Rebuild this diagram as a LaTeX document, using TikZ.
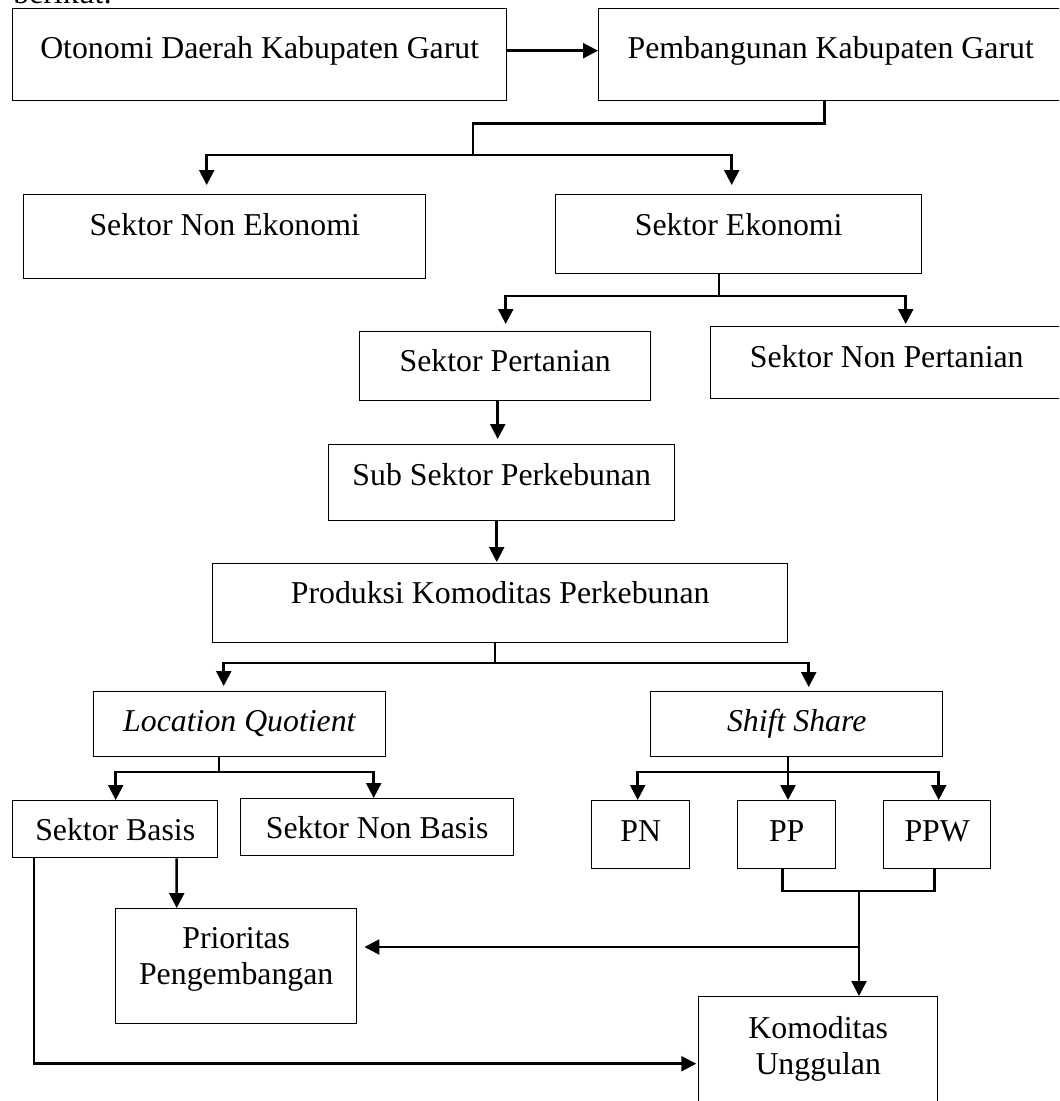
\documentclass[tikz,border=0pt]{standalone}
\usepackage{fontspec}
\setmainfont{Liberation Serif}
\usetikzlibrary{arrows.meta,calc,positioning}
\newlength\satuan
\setlength\satuan{0.02cm}

\begin{document}
\begin{tikzpicture}[x=0.02cm, y=-0.02cm,
  kotak/.style={draw, line width=0.8pt, inner sep=0pt, anchor=north west, align=center,
    font=\fontsize{18.1pt}{20.5pt}\selectfont},
  garis/.style={line width=1.4pt},
  panah/.style={garis, -{Triangle[width=8.5pt,length=8.5pt]}}]
\useasboundingbox (0,0) rectangle (1059,1101);
\clip (0,0) rectangle (1059,1101);

\node[anchor=base west, inner sep=0pt, font=\fontsize{18.1pt}{20.5pt}\selectfont] (pengantar) at (13,4) {berikut:};

\node[kotak, minimum width=494\satuan, text height=50\satuan, text depth=42\satuan] (otonomi) at (12,8) {Otonomi Daerah Kabupaten Garut};
\node[kotak, minimum width=464\satuan, text height=50\satuan, text depth=42\satuan] (pembangunan) at (598,8) {Pembangunan Kabupaten Garut};
\node[kotak, minimum width=402\satuan, text height=41\satuan, text depth=43\satuan] (nonekonomi) at (23,194) {Sektor Non Ekonomi};
\node[kotak, minimum width=366\satuan, text height=41\satuan, text depth=38\satuan] (ekonomi) at (555,194) {Sektor Ekonomi};
\node[kotak, minimum width=291\satuan, text height=40\satuan, text depth=29\satuan] (pertanian) at (359,331) {Sektor Pertanian};
\node[kotak, minimum width=352\satuan, text height=41\satuan, text depth=31\satuan] (nonpertanian) at (710,326) {Sektor Non Pertanian};
\node[kotak, minimum width=346\satuan, text height=41\satuan, text depth=35\satuan] (perkebunan) at (328,444) {Sub Sektor Perkebunan};
\node[kotak, minimum width=575\satuan, text height=40\satuan, text depth=39\satuan] (produksi) at (212,563) {Produksi Komoditas Perkebunan};
\node[kotak, minimum width=292\satuan, text height=40\satuan, text depth=25\satuan] (lq) at (93,691) {\textit{Location Quotient}};
\node[kotak, minimum width=292\satuan, text height=40\satuan, text depth=25\satuan] (ss) at (650,691) {\textit{Shift Share}};
\node[kotak, minimum width=205\satuan, text height=40\satuan, text depth=17\satuan] (basis) at (12,800) {Sektor Basis};
\node[kotak, minimum width=273\satuan, text height=40\satuan, text depth=17\satuan] (nonbasis) at (240,798) {Sektor Non Basis};
\foreach \nama/\x/\lebar in {PN/591/98, PP/737/98, PPW/883/107}
  \node[kotak, minimum width=\lebar\satuan, text height=41\satuan, text depth=27\satuan] (\nama) at (\x,800) {\nama};
\node[kotak, minimum width=241\satuan, text height=76\satuan, text depth=39\satuan] (prioritas) at (115,908) {Prioritas\\Pengembangan};
\node[kotak, minimum width=239\satuan, text height=78\satuan, text depth=56\satuan] (unggulan) at (698,996) {Komoditas\\Unggulan};

\coordinate (cabang1) at (473,155);
\coordinate (cabang2) at (719,296);
\coordinate (cabang3) at (495,663);
\coordinate (cabang4) at (219,772);
\coordinate (cabang5) at (788,772);
\coordinate (gabung) at (859,891);
\coordinate (simpang) at (859,947);

\draw[panah] ($(otonomi.east)+(0,-4)$) -- ($(pembangunan.west)+(0,-4)$);
\draw[garis] ($(pembangunan.south)+(-6,0)$) -- ++(0,22) -| (cabang1);
\draw[panah] (cabang1) -| ($(nonekonomi.north)+(-18,-9)$);
\draw[panah] (cabang1) -| ($(ekonomi.north)+(-7,-9)$);
\draw[garis] (ekonomi.south -| cabang2) -- (cabang2);
\draw[panah] (cabang2) -| ($(pertanian.north)+(0.5,-7)$);
\draw[panah] (cabang2) -| ($(nonpertanian.north)+(19,-2)$);
\draw[panah] ($(pertanian.south)+(-7.5,0)$) -- ($(perkebunan.north)+(-4,-5)$);
\draw[panah] ($(perkebunan.south)+(-5,0)$) -- ($(produksi.north)+(-3.5,-1)$);
\draw[garis] (produksi.south -| cabang3) -- (cabang3);
\draw[panah] (cabang3) -| ($(lq.north)+(-16,-5)$);
\draw[panah] (cabang3) -| ($(ss.north)+(12,-4)$);
\draw[garis] (lq.south -| cabang4) -- (cabang4);
\draw[panah] (cabang4) -| ($(basis.north)+(0.5,0)$);
\draw[panah] (cabang4) -| ($(nonbasis.north)+(-3.5,0)$);
\draw[panah] (ss.south -| cabang5) -- (cabang5 |- PP.north);
\draw[panah] (cabang5) -| ($(PN.north)+(-3,0)$);
\draw[panah] (cabang5) -| ($(PPW.north)+(1.5,0)$);
\draw[garis] ($(PP.south)+(-4,0)$) |- (gabung) -| ($(PPW.south)+(-2.5,0)$);
\draw[panah] (gabung) -- (gabung |- unggulan.north);
\draw[panah, shorten >=4pt] (simpang) -- (simpang -| prioritas.east);
\draw[panah] ($(basis.south)+(61.5,0)$) -- ($(prioritas.north)+(-59.5,0)$);
\draw[panah, shorten >=1pt] ($(basis.south west)+(22,0)$) |- (unggulan.west);
\end{tikzpicture}
\end{document}
